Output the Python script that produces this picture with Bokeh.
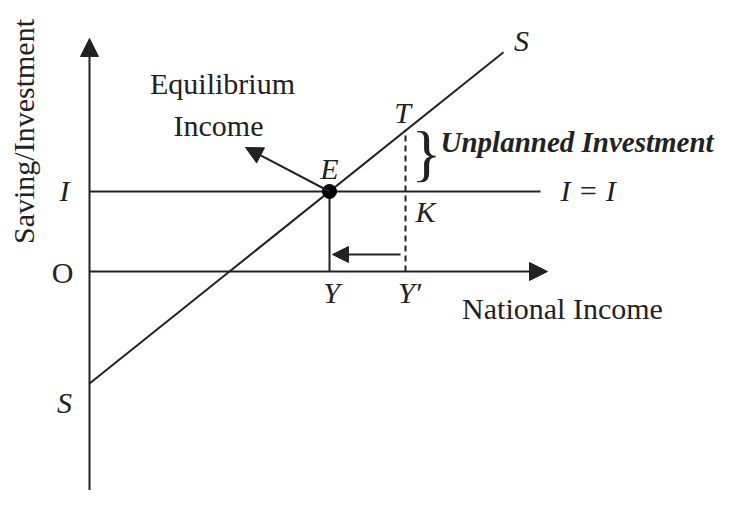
import math
from bokeh.plotting import figure
from bokeh.models import Range1d, Label, Arrow, NormalHead
from bokeh.embed import file_html
from bokeh.resources import INLINE

# ---- data (economic units) ----
planned_investment = 2.0          # I = I level
saving_intercept = -2.8           # S line meets the vertical axis
marginal_propensity_to_save = 0.8 # slope of S line
equilibrium_income = (planned_investment - saving_intercept) / marginal_propensity_to_save  # Y
excess_income = 7.9               # Y'
saving_line_x = [0.0, 10.35]
investment_line_x = [0.0, 11.275]
x_axis_end = 11.45
y_axis_top = 5.825
y_axis_bottom = -6.0
adjust_arrow_y = 0.425
adjust_arrow_x = [excess_income - 0.125, equilibrium_income + 0.075]
eq_arrow_tip = [3.9, 3.1]

def saving(x):
    return saving_intercept + marginal_propensity_to_save * x

saving_line_y = [saving(x) for x in saving_line_x]
saving_at_excess = saving(excess_income)

FONT = "Liberation Serif"
INK = "#222222"
FS = "30px"
BL = 10  # baseline correction (px)

p = figure(width=726, height=490, output_backend="svg", toolbar_location=None,
           x_range=Range1d(-2.225, 15.925), y_range=Range1d(-5.475, 6.775),
           min_border=0, outline_line_color=None, background_fill_color="white")
p.xaxis.visible = False
p.yaxis.visible = False
p.grid.visible = False

# axes with arrowheads
p.add_layout(Arrow(end=NormalHead(size=18, fill_color=INK, line_color=INK, line_width=1),
                   x_start=0, y_start=y_axis_bottom, x_end=0, y_end=y_axis_top,
                   line_color=INK, line_width=2))
p.add_layout(Arrow(end=NormalHead(size=18, fill_color=INK, line_color=INK, line_width=1),
                   x_start=0, y_start=0, x_end=x_axis_end, y_end=0,
                   line_color=INK, line_width=2))

# saving line S-S
p.line(saving_line_x, saving_line_y, line_color=INK, line_width=2)
# investment line I = I
p.line(investment_line_x, [planned_investment] * 2, line_color=INK, line_width=2)
# vertical from E to Y
p.line([equilibrium_income] * 2, [0, planned_investment], line_color=INK, line_width=2)
# dashed from Y' to T
p.line([excess_income] * 2, [0, saving_at_excess], line_color=INK, line_width=2, line_dash="6 4")

# arrow Y' -> Y
p.add_layout(Arrow(end=NormalHead(size=16, fill_color=INK, line_color=INK, line_width=1),
                   x_start=adjust_arrow_x[0], y_start=adjust_arrow_y,
                   x_end=adjust_arrow_x[1], y_end=adjust_arrow_y,
                   line_color=INK, line_width=2))
# arrow from E to "Equilibrium Income"
p.add_layout(Arrow(end=NormalHead(size=17, fill_color=INK, line_color=INK, line_width=1),
                   x_start=equilibrium_income, y_start=planned_investment,
                   x_end=eq_arrow_tip[0], y_end=eq_arrow_tip[1],
                   line_color=INK, line_width=2))

# equilibrium point
p.scatter([equilibrium_income], [planned_investment], size=14, color="black")

def lab(text, x, y, dx, dy, align="center", style="italic", size=FS, angle=0.0,
        baseline="alphabetic"):
    p.add_layout(Label(text=text, x=x, y=y, x_offset=dx, y_offset=dy, text_align=align,
                       text_baseline=baseline, text_font=FONT, text_font_style=style,
                       text_font_size=size, text_color=INK, angle=angle))

lab("E", equilibrium_income, planned_investment, 0, 13 + BL)
lab("T", excess_income, saving_at_excess, -3, 8 + BL)
lab("K", excess_income, planned_investment, 20, -30 + BL)
lab("I = I", investment_line_x[1], planned_investment, 20, -9 + BL, align="left")
lab("Y", equilibrium_income, 0, 2, -31 + BL)
lab("Y\u2032", excess_income, 0, 4, -31 + BL)
lab("National Income", x_axis_end, 0, 15, -47 + BL, style="normal")
lab("S", saving_line_x[1], saving_line_y[1], 18, 2 + BL)
lab("S", 0, saving_intercept, -25, -29 + BL)
lab("I", 0, planned_investment, -25, -9 + BL)
lab("O", 0, 0, -27, -11 + BL, style="normal")
lab("Equilibrium", eq_arrow_tip[0], eq_arrow_tip[1], -23, 54 + BL, style="normal")
lab("Income", eq_arrow_tip[0], eq_arrow_tip[1], -27, 12 + BL, style="normal")
mid_gap = (planned_investment + saving_at_excess) / 2
lab("Unplanned Investment", excess_income, mid_gap, 35, 9 + BL, align="left",
    style="bold italic", size="29px")
lab("}", excess_income, mid_gap, 21, 8, style="normal", size="62px", baseline="middle")
lab("Saving/Investment", 0, 0, -56 - BL, 140, style="normal", angle=math.pi / 2)

open("out.html", "w").write(file_html(p, INLINE))
